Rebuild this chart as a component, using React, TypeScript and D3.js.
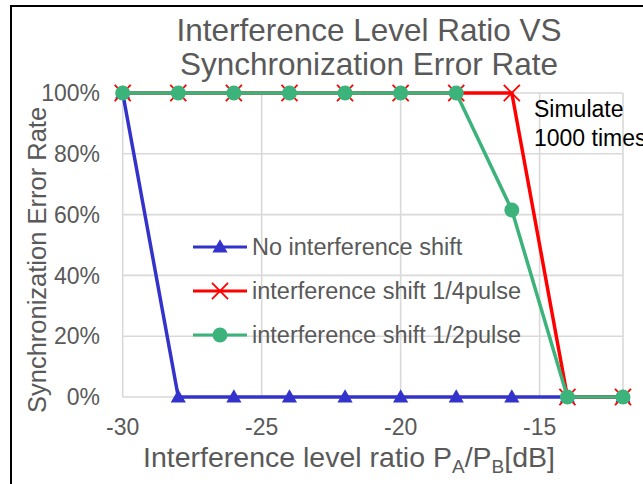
import React from 'react';
import * as d3 from 'd3';

// data
const ratios = [-30, -28, -26, -24, -22, -20, -18, -16, -14, -12];
const noShift = [1, 0, 0, 0, 0, 0, 0, 0, 0, 0];
const quarterShift = [1, 1, 1, 1, 1, 1, 1, 1, 0, 0];
const halfShift = [1, 1, 1, 1, 1, 1, 1, 0.615, 0, 0];
const xTicks = [-30, -25, -20, -15];
const yTicks = [0, 0.2, 0.4, 0.6, 0.8, 1];
const seriesNames = ['No interference shift', 'interference shift 1/4pulse', 'interference shift 1/2pulse'];
const titleLines = ['Interference Level Ratio VS', 'Synchronization Error Rate'];
const noteLines = ['Simulate', '1000 times'];

const W = 643, H = 484;
const FONT = '"Liberation Sans", Arial, sans-serif';
const GREY = '#595959';
const GRID = '#d9d9d9';

const colors = ['#3333cc', '#ff0000', '#3db37c'];

const x = d3.scaleLinear().domain([-30, -12]).range([122.7, 623]);
const y = d3.scaleLinear().domain([0, 1]).range([397, 93]);

const triangle = d3.symbol(d3.symbolTriangle, 100);
const cross = d3.symbol(d3.symbolX, 170);

type Pt = { r: number; v: number };

const Marker: React.FC<{ kind: number; cx: number; cy: number }> = ({ kind, cx, cy }) => {
  if (kind === 0)
    return <path d={triangle()!} transform={`translate(${cx},${cy + 1})`} fill={colors[0]} />;
  if (kind === 1)
    return <path d={cross()!} transform={`translate(${cx},${cy})`} fill="none" stroke={colors[1]} strokeWidth={1.8} />;
  return <circle cx={cx} cy={cy} r={7.5} fill={colors[2]} />;
};

const App: React.FC = () => {
  const all = [noShift, quarterShift, halfShift].map(vals =>
    ratios.map((r, i) => ({ r, v: vals[i] } as Pt))
  );
  const line = d3.line<Pt>().x(d => x(d.r)).y(d => y(d.v));

  const legendY = [247, 291, 335];

  return (
    <svg width={W} height={H} style={{ position: 'absolute', left: 0, top: 0, background: '#fff' }} fontFamily={FONT}>
      {/* chart frame, runs off the picture to the right and bottom */}
      <rect x={11} y={6} width={700} height={520} fill="#fff" stroke="#000" strokeWidth={2} />

      {/* title */}
      {titleLines.map((t, i) => (
        <text key={t} x={369} y={40.5 + i * 34.5} textAnchor="middle" fontSize={31.5} fill={GREY}>{t}</text>
      ))}

      {/* grid */}
      {yTicks.map(t => (
        <line key={'gy' + t} x1={x(-30)} x2={x(-12)} y1={y(t)} y2={y(t)} stroke={GRID} strokeWidth={1.6} />
      ))}
      {[-30, ...xTicks.slice(1), -12].map(t => (
        <line key={'gx' + t} x1={x(t)} x2={x(t)} y1={y(1)} y2={y(0)} stroke={GRID} strokeWidth={1.6} />
      ))}

      {/* y tick labels */}
      {yTicks.map(t => (
        <text key={'ly' + t} x={100} y={y(t)} dy="0.36em" textAnchor="end" fontSize={23} fill={GREY}>
          {d3.format('.0%')(t)}
        </text>
      ))}
      {/* x tick labels */}
      {xTicks.map(t => (
        <text key={'lx' + t} x={x(t)} y={435} textAnchor="middle" fontSize={23} fill={GREY}>{t}</text>
      ))}

      {/* axis titles */}
      <text x={349} y={467} textAnchor="middle" fontSize={28.5} fill={GREY}>
        Interference level ratio P<tspan fontSize={19} dy={6}>A</tspan>
        <tspan dy={-6}>/P</tspan><tspan fontSize={19} dy={6}>B</tspan><tspan dy={-6}>[dB]</tspan>
      </text>
      <text transform="translate(46,260) rotate(-90)" textAnchor="middle" fontSize={25.5} fill={GREY}>
        Synchronization Error Rate
      </text>

      {/* series */}
      {all.map((pts, k) => (
        <g key={'s' + k}>
          <path d={line(pts)!} fill="none" stroke={colors[k]} strokeWidth={3.5} strokeLinejoin="round" />
          {pts.map(p => (
            <Marker key={p.r} kind={k} cx={x(p.r)} cy={y(p.v)} />
          ))}
        </g>
      ))}

      {/* legend */}
      {seriesNames.map((n, k) => (
        <g key={n}>
          <line x1={193} x2={247} y1={legendY[k]} y2={legendY[k]} stroke={colors[k]} strokeWidth={3} />
          <Marker kind={k} cx={220} cy={legendY[k]} />
          <text x={252} y={legendY[k]} dy="0.36em" fontSize={23.5} fill={GREY}>{n}</text>
        </g>
      ))}

      {/* note, cut off by the picture edge as in the reference */}
      {noteLines.map((t, i) => (
        <text key={t} x={534} y={117 + i * 28.5} fontSize={23} fill="#000">{t}</text>
      ))}
    </svg>
  );
};

export default App;
